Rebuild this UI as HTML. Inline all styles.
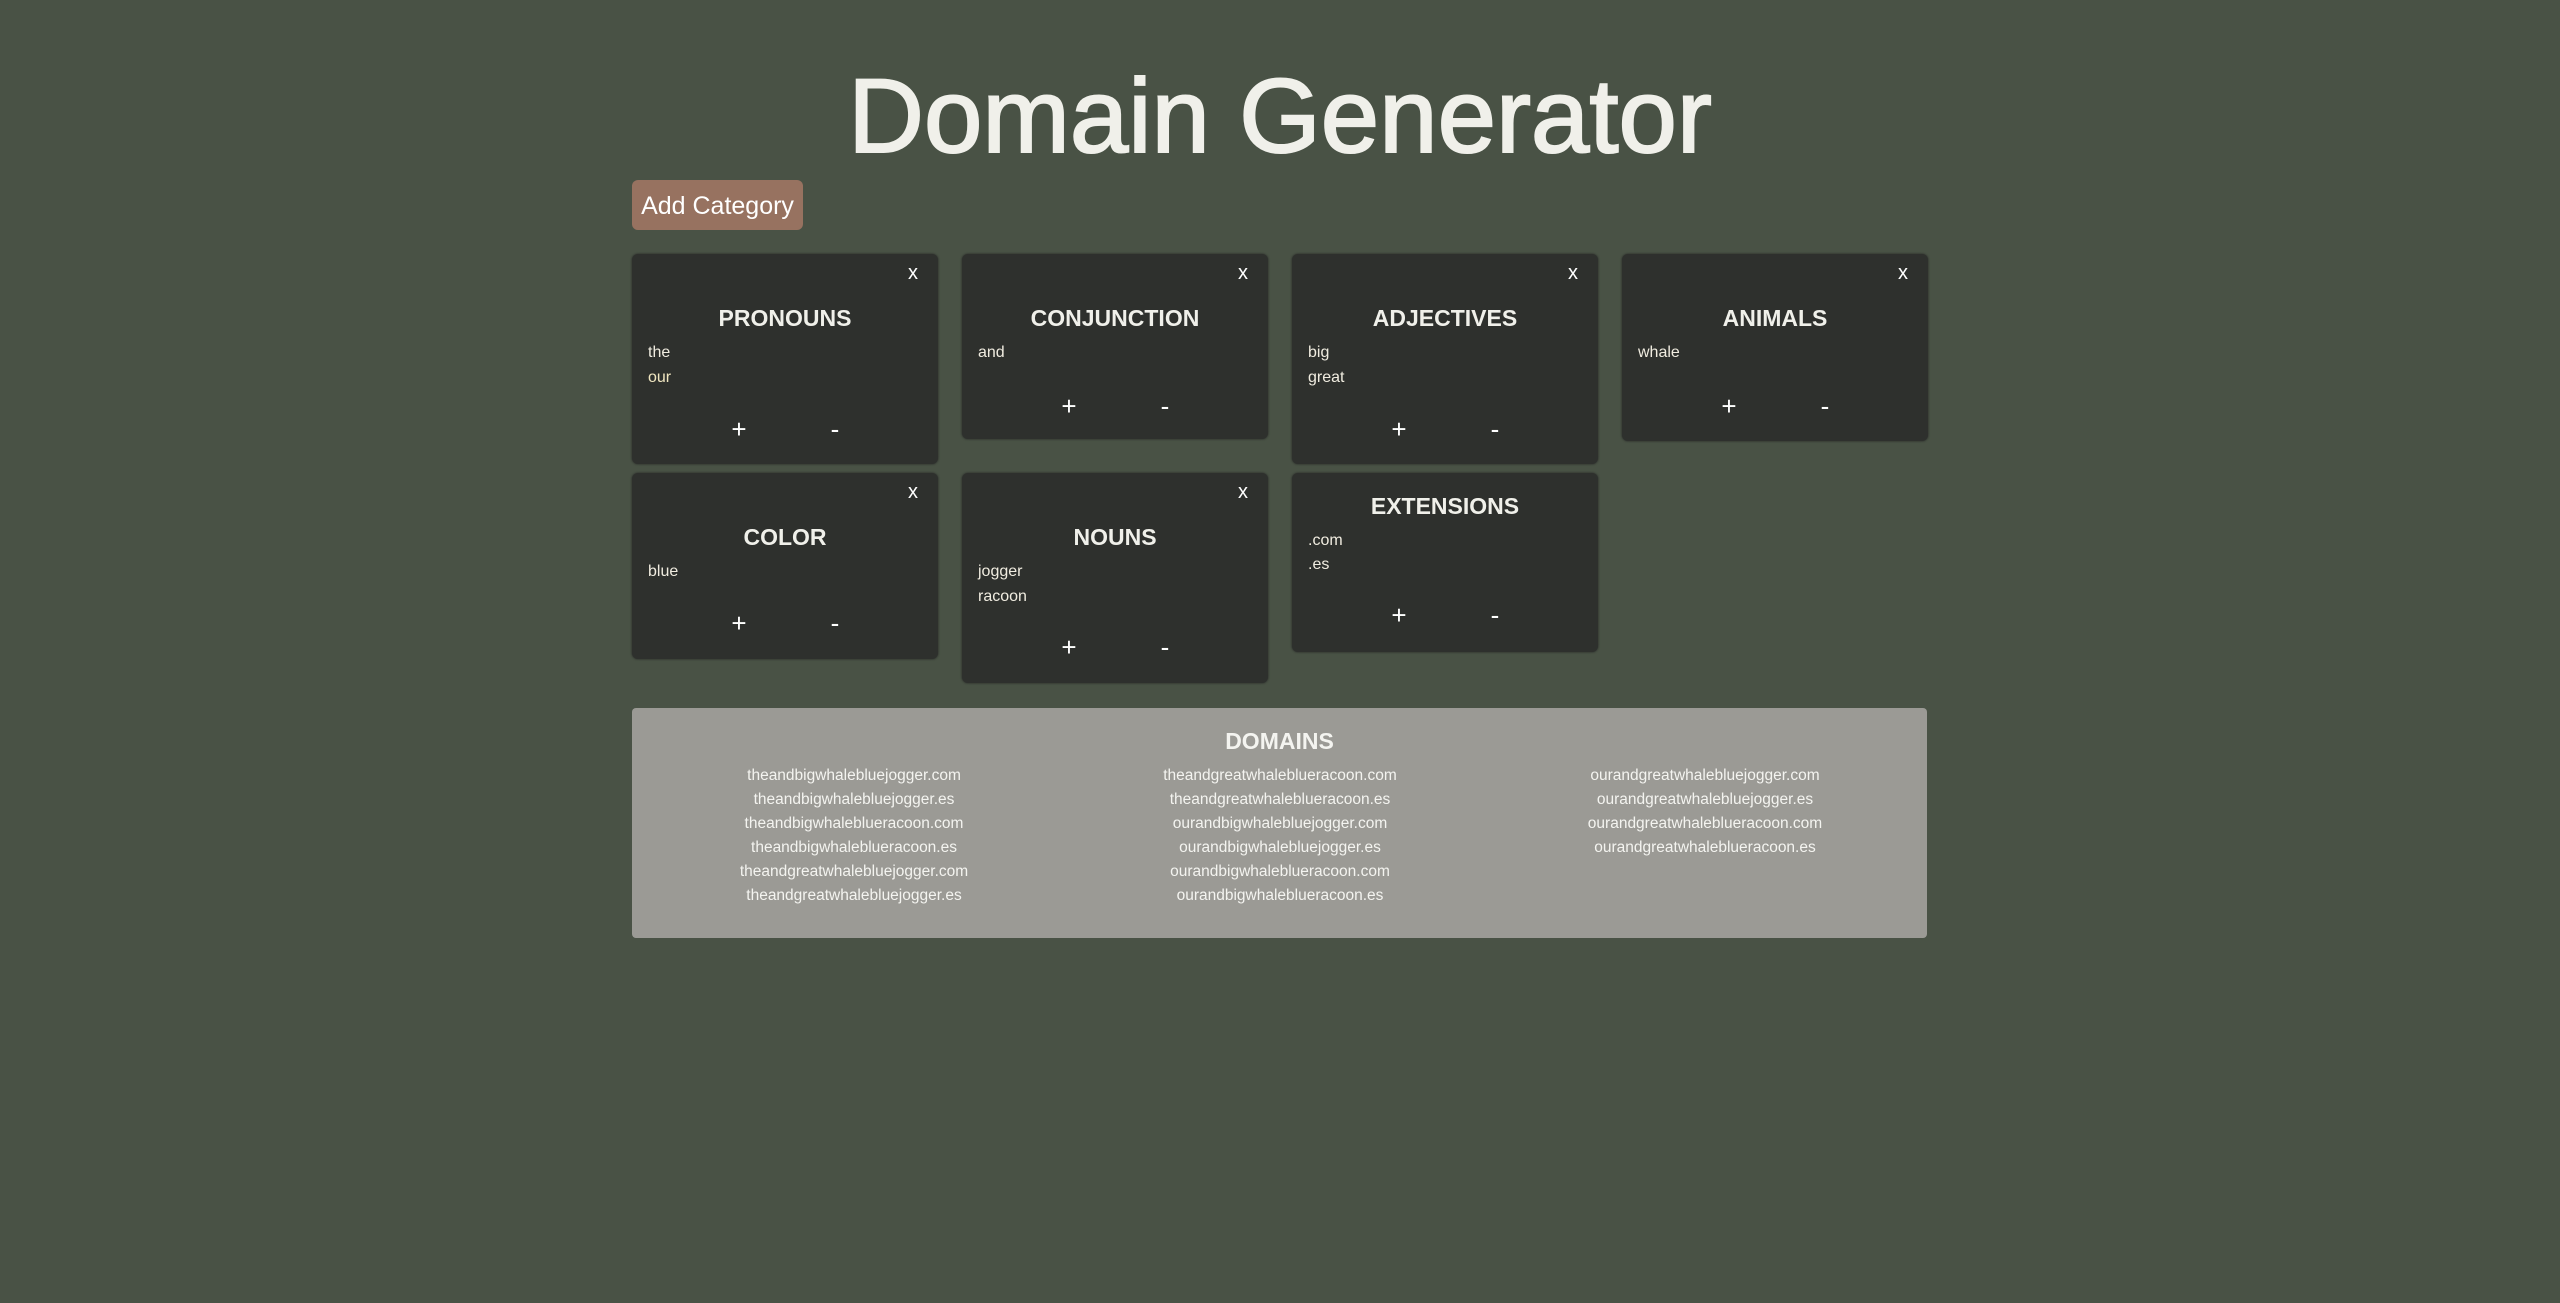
<!DOCTYPE html>
<html><head><meta charset="utf-8"><style>
body{margin:0;width:2560px;height:1303px;background:#495245;font-family:"Liberation Sans",sans-serif;position:relative;overflow:hidden;color:#f0f0ea}
.a{position:absolute}
h1{position:absolute;margin:0;left:0;width:2560px;text-align:center;top:64px;font-size:105px;line-height:105px;font-weight:normal;letter-spacing:0px;color:#f0f0ea;-webkit-text-stroke:2px #f0f0ea}
.btn{left:632px;top:180px;width:171px;height:50px;background:#977260;border-radius:6px;font-size:25px;line-height:52px;text-align:center;color:#fff}
.card{position:absolute;background:#2e302d;border-radius:6px;width:306px;box-shadow:0 0 2px #222}
.x{position:absolute;right:20px;font-size:20px;line-height:20px;color:#fff}
.t{position:absolute;left:0;width:100%;text-align:center;font-weight:bold;font-size:23px;line-height:30px;color:#f0f0ea}
.i{position:absolute;left:16px;font-size:16px;line-height:24px;color:#f0ece0;margin-top:2px}
.p,.m{position:absolute;font-size:26px;line-height:30px;color:#fff;width:30px;text-align:center;margin-top:1px}
.p{left:92px}.m{left:188px}
.dom{left:632px;top:708px;width:1295px;height:230px;background:#9b9a95;border-radius:4px}
.dt{position:absolute;top:726px;left:632px;width:1295px;text-align:center;font-weight:bold;font-size:23px;line-height:30px;color:#f4f4f0}
.col{position:absolute;top:764px;width:400px;text-align:center;font-size:15.5px;line-height:24px;color:#f4f4f0}
</style></head><body>
<h1>Domain Generator</h1>
<div class="a btn">Add Category</div>

<div class="card" style="left:632px;top:254px;height:210px">
<div class="x" style="top:9px">x</div>
<div class="t" style="top:49px">PRONOUNS</div>
<div class="i" style="top:85px">the</div><div class="i" style="top:110px;color:#f0e6c0">our</div>
<div class="p" style="top:159px">+</div><div class="m" style="top:159px">-</div>
</div>

<div class="card" style="left:962px;top:254px;height:185px">
<div class="x" style="top:9px">x</div>
<div class="t" style="top:49px">CONJUNCTION</div>
<div class="i" style="top:85px">and</div>
<div class="p" style="top:136px">+</div><div class="m" style="top:136px">-</div>
</div>

<div class="card" style="left:1292px;top:254px;height:210px">
<div class="x" style="top:9px">x</div>
<div class="t" style="top:49px">ADJECTIVES</div>
<div class="i" style="top:85px">big</div><div class="i" style="top:110px">great</div>
<div class="p" style="top:159px">+</div><div class="m" style="top:159px">-</div>
</div>

<div class="card" style="left:1622px;top:254px;height:187px">
<div class="x" style="top:9px">x</div>
<div class="t" style="top:49px">ANIMALS</div>
<div class="i" style="top:85px">whale</div>
<div class="p" style="top:136px">+</div><div class="m" style="top:136px">-</div>
</div>

<div class="card" style="left:632px;top:473px;height:186px">
<div class="x" style="top:9px">x</div>
<div class="t" style="top:49px">COLOR</div>
<div class="i" style="top:85px">blue</div>
<div class="p" style="top:134px">+</div><div class="m" style="top:134px">-</div>
</div>

<div class="card" style="left:962px;top:473px;height:210px">
<div class="x" style="top:9px">x</div>
<div class="t" style="top:49px">NOUNS</div>
<div class="i" style="top:85px">jogger</div><div class="i" style="top:110px">racoon</div>
<div class="p" style="top:158px">+</div><div class="m" style="top:158px">-</div>
</div>

<div class="card" style="left:1292px;top:473px;height:179px">
<div class="t" style="top:18px">EXTENSIONS</div>
<div class="i" style="top:54px">.com</div><div class="i" style="top:78px">.es</div>
<div class="p" style="top:126px">+</div><div class="m" style="top:126px">-</div>
</div>

<div class="a dom"></div>
<div class="dt">DOMAINS</div>
<div class="col" style="left:654px">theandbigwhalebluejogger.com<br>theandbigwhalebluejogger.es<br>theandbigwhaleblueracoon.com<br>theandbigwhaleblueracoon.es<br>theandgreatwhalebluejogger.com<br>theandgreatwhalebluejogger.es</div>
<div class="col" style="left:1080px">theandgreatwhaleblueracoon.com<br>theandgreatwhaleblueracoon.es<br>ourandbigwhalebluejogger.com<br>ourandbigwhalebluejogger.es<br>ourandbigwhaleblueracoon.com<br>ourandbigwhaleblueracoon.es</div>
<div class="col" style="left:1505px">ourandgreatwhalebluejogger.com<br>ourandgreatwhalebluejogger.es<br>ourandgreatwhaleblueracoon.com<br>ourandgreatwhaleblueracoon.es</div>
</body></html>
